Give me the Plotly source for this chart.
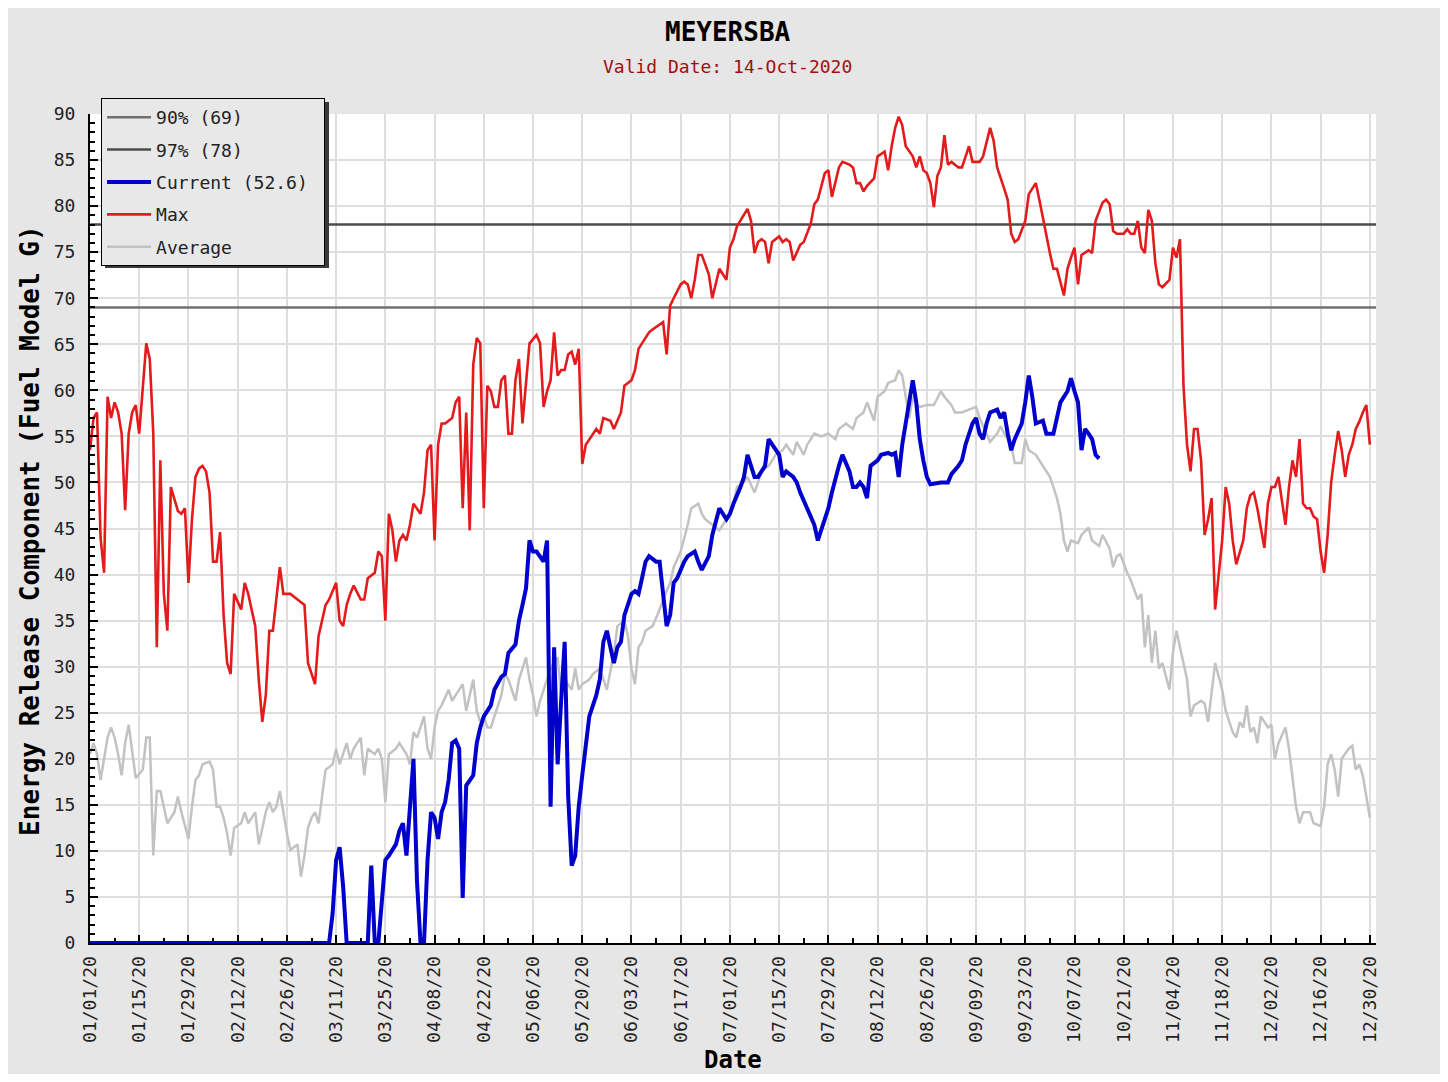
import pandas as pd
import plotly.graph_objects as go

# ---------------- data (day offset from 2020-01-01, value) ----------------
BASE = "2020-01-01"

max_days = [0,1,2,3,4,5,6,7,8,9,10,11,12,13,14,15,16,17,18,19,20,21,22,23,24,25,26,27,28,29,30,31,32,33,34,35,36,37,38,39,40,41,43,44,45,47,48,49,50,51,52,54,55,57,59,61,62,63,64,65,67,68,70,71,72,73,
            74,75,77,78,79,81,82,83,84,85,86,87,88,89,90,91,92,94,95,96,97,98,99,100,101,103,104,105,106,107,108,109,110,111,112,113,114,115,116,117,118,119,120,121,122,123,124,125,127,128,129,130,131,132,133,134,135,136,137,138,139,140,141,143,144,145,
            146,148,149,151,152,154,155,156,157,159,160,162,163,164,165,166,168,169,170,171,172,173,174,176,177,179,180,181,182,183,184,185,187,188,189,190,191,192,193,194,196,197,198,199,200,202,203,205,206,207,209,210,211,213,214,216,217,218,
            219,220,221,223,224,226,227,228,229,230,231,232,234,235,236,237,238,239,240,241,242,243,244,245,247,248,249,250,251,253,254,255,256,257,258,260,261,262,263,264,266,267,268,269,270,272,273,274,275,277,278,279,280,281,282,284,285,286,288,289,290,291,
            292,293,294,295,296,297,298,299,300,301,302,303,304,305,307,308,309,310,311,312,313,314,315,316,317,318,319,320,322,323,324,325,326,328,329,330,331,332,334,335,336,337,338,340,341,342,343,344,345,346,347,348,349,350,351,352,353,354,355,356,357,358,359,360,361,362,363,364]
max_vals = [53.5,57,57.6,44,40.2,59.3,57,58.7,57.6,55.3,47,55.3,57.6,58.4,55.3,59.9,65.1,63.4,55.3,32.1,52.4,37.9,33.9,49.5,48.3,46.9,46.6,47.2,39.1,46,50.6,51.5,51.8,51.2,48.9,41.4,41.4,44.6,35.6,30.4,29.2,37.9,36.2,39.1,37.9,34.4,28.6,24,26.9,33.9,33.9,40.8,37.9,37.9,37.3,36.7,30.4,29.2,28.1,33.3,36.7,37.3,39.1,35,34.4,36.7,
            37.9,38.8,37.3,37.3,39.6,40.2,42.5,42,35,46.6,44.8,41.4,43.7,44.3,43.7,45.4,47.7,46.6,48.9,53.5,54.1,43.7,54.1,56.4,56.4,57,58.7,59.3,47.2,57.6,44.8,62.8,65.7,65.1,47.2,60.5,59.9,58.2,58.2,61.1,61.6,55.3,55.3,61.1,63.4,56.4,61.1,65.1,66,65.1,58.2,59.9,61.1,66.3,61.6,62.2,62.2,63.9,64.2,62.8,64.5,52,54.1,55.3,55.8,55.3,
            57,56.7,55.8,57.6,60.5,61.1,62.2,64.5,65.1,66.3,66.6,67.1,67.4,63.9,69.2,70,71.5,71.8,71.5,70,72,74.7,74.7,72.6,70,73.2,72.6,72,75.5,76.4,77.8,78.4,79.7,78.4,74.9,76.1,76.4,76.1,73.8,76.1,76.7,76.1,76.4,76.1,74.1,75.8,76.1,78.1,80.2,80.7,83.6,83.9,81,84.2,84.8,84.5,84.2,82.5,
            82.5,81.6,82.2,83,85.4,85.9,83.9,86.5,88.5,89.7,88.8,86.5,85.4,84.2,85.4,83.9,83.6,82.5,79.9,83.3,84.2,87.7,84.5,84.8,84.2,84.2,85.4,86.5,84.8,84.8,85.4,86.8,88.5,87.1,84.2,81.9,80.7,77,76.1,76.4,78.4,81.3,81.9,82.5,80.7,76.7,74.9,73.2,73.2,70.3,73.2,74.4,75.5,71.5,74.7,75.2,74.9,78.4,80.4,80.7,80.2,77.3,
            77,77,77,77.5,77,77,78.4,75.5,74.9,79.6,78.4,73.8,71.5,71.2,72,75.5,74.4,76.4,60.5,54.1,51.2,55.8,55.8,52.4,44.3,46,48.3,36.2,43.7,49.5,47.7,43.7,41.1,43.7,47.2,48.6,48.9,47.2,42.9,47.7,49.5,49.5,50.6,45.4,49.5,52.4,50.6,54.7,47.7,47.2,47.2,46.3,46,42.5,40.2,44.3,50,53,55.6,53.5,50.6,53,54.1,55.8,56.6,57.6,58.4,54.1,50,51.2,55]

avg_days = [0,1,2,3,5,6,7,8,9,10,11,12,13,15,16,17,18,19,20,21,22,24,25,26,28,29,30,31,32,34,35,36,37,38,39,40,41,43,44,45,46,47,48,50,51,52,53,54,55,56,57,59,60,61,62,63,64,65,66,67,69,70,71,73,74,75,77,78,79,81,82,83,84,85,87,88,90,91,92,93,95,96,97,98,99,100,102,103,105,106,107,108,109,110,111,112,113,114,116,117,118,119,121,122,124,125,126,127,128,130,131,132,133,134,135,137,138,139,140,142,143,145,
            146,147,149,150,152,153,154,155,156,157,158,160,162,163,165,166,168,170,171,173,174,175,177,179,180,182,183,184,186,187,189,190,191,193,194,195,197,198,200,201,203,204,206,208,210,212,213,215,217,218,220,221,223,224,226,227,229,230,231,232,233,234,235,236,238,240,242,243,245,246,248,250,252,253,255,256,258,259,260,262,263,265,266,267,269,270,271,273,274,275,276,277,278,279,281,282,284,285,287,288,290,
            291,292,293,295,296,298,299,300,301,302,303,304,305,307,308,309,311,312,313,314,316,317,318,319,320,322,323,325,326,327,328,329,330,331,332,333,335,336,337,338,340,341,342,343,344,345,347,348,350,351,352,353,354,355,356,358,359,360,361,362,363,364]
avg_vals = [20.5,21.7,20.5,17.7,22.3,23.4,22.3,20.5,18.2,21.7,23.7,20.5,17.9,18.8,22.3,22.3,9.5,16.5,16.5,14.8,13,14.2,15.9,14.2,11.3,14.8,17.7,18.2,19.4,19.7,18.8,14.8,14.8,13.6,11.9,9.5,12.5,13,14.2,13,13.6,14.2,10.7,14.2,15.3,14.2,14.8,16.5,14.2,11.9,10.1,10.7,7.2,9.5,12.5,13.6,14.2,13,15.9,18.8,19.4,21.1,19.4,21.7,20,21.1,22.3,18.2,21.1,20.5,21.1,20,15.3,20.5,21.1,21.7,20.5,19.4,22.9,22.3,24.6,21.1,20,23.4,25.2,25.8,27.5,26.3,27.5,28.1,25.2,26.9,28.6,25.2,24,24.6,23.4,23.4,25.8,26.9,29.2,28.6,26.3,28.6,31,28.6,26.9,24.6,26.3,28.6,29.8,30.4,31,26.9,28.6,27.5,29.8,27.5,28.1,28.6,29.2,29.8,
            28.6,27.5,31.5,34.4,35,33.3,29.8,28.1,32.1,32.7,33.9,34.4,36.2,37.3,39.1,40.8,42.5,45.4,47.2,47.7,46.6,46,45.4,44.8,45.4,46.6,47.7,49.5,50,50.6,48.9,50,51.2,51.8,52.4,53,53.5,54.1,53,54.4,53,54.1,55.3,55,55.3,54.7,55.8,56.4,55.8,57,57.6,58.7,56.7,59.3,59.9,60.8,61.1,62.2,61.6,59.3,57,59.3,58.4,58.2,58.4,58.4,59.9,59.3,58.4,57.6,57.6,57.9,58.2,57,55.3,54.4,55.3,56.1,55.3,54.1,52.1,52.1,54.7,53.5,53,52.4,51.8,50.6,49.5,48.3,46.6,43.7,42.5,43.7,43.4,44.3,45.1,43.7,43.1,44.3,42.8,
            40.8,42,42.2,40.2,39.4,37.3,37.9,32.1,35.6,30.4,33.9,29.8,30.4,27.5,31.5,33.9,30.4,28.6,24.6,25.8,26.3,26,24,27.5,30.4,27.5,25.2,22.9,22.3,24,23.4,25.8,22.9,23.4,21.7,24.6,23.4,23.7,20,21.7,23.4,21.1,18.2,14.8,13,14.2,14.2,13,12.7,14.8,19.4,20.5,18.8,15.9,20,21.1,21.4,18.8,19.4,18.2,15.9,13.6]

cur_days = [0,68,69,70,71,72,73,79,80,81,82,83,84,85,87,88,89,90,91,92,93,94,95,96,97,98,99,100,101,102,103,104,105,106,107,108,109,110,111,112,114,115,117,118,119,121,122,123,124,125,126,127,128,129,130,131,132,133,134,135,136,137,138,139,140,141,142,144,145,
            146,147,148,149,150,151,152,154,155,156,157,158,159,161,162,163,164,165,166,167,169,170,172,173,174,176,177,179,180,181,182,183,185,186,187,189,190,192,193,194,196,197,198,200,201,202,204,206,207,208,210,211,212,213,214,216,217,
            218,219,220,221,222,224,225,227,228,229,230,231,232,233,234,235,236,237,238,239,241,242,244,245,247,248,249,251,252,253,254,255,256,258,259,260,261,262,263,265,266,267,268,269,271,272,274,275,276,278,279,280,281,282,283,284,285,286,287]
cur_vals = [0,0,3.2,9,10.4,6.1,0,0,8.4,0,0,4.3,9,9.5,10.7,12.2,13,9.5,15.3,20,6.7,0,0,9,14.2,13.6,11.3,14.2,15.3,17.7,21.7,22,21.1,4.9,17.1,17.7,18.2,21.7,23.4,24.6,25.8,27.5,28.9,29.2,31.5,32.4,35,36.7,38.5,43.7,42.5,42.5,42,41.4,43.7,14.8,32.1,19.4,26.3,32.7,15.9,8.4,9.5,14.8,18.2,21.1,24.6,26.9,28.6,
            32.7,33.9,32.1,30.4,32.1,32.7,35.6,37.9,38.2,37.9,39.6,41.4,42,41.4,41.4,37.9,34.4,35.6,39.1,39.6,41.4,42,42.5,41.4,40.5,42,44.3,47.2,46.6,46,46.6,47.7,49.5,50.6,53,50.6,50.6,51.8,54.7,54.1,53,50.6,51.2,50.6,50,48.9,47.2,45.4,43.7,44.8,47.2,48.9,50.6,51.8,53,51.2,49.5,
            49.5,50,49.5,48.3,51.8,52.4,53,53.2,53,53.2,50.6,54.1,56.4,58.7,61.1,58.7,54.7,52.4,50.6,49.8,50,50,50,50.9,51.8,52.4,54.1,56.4,57,55.3,54.7,56.4,57.6,57.9,57,57.6,55.3,53.5,54.7,56.4,58.7,61.6,59.3,56.4,56.7,55.3,55.3,57,58.7,59.9,61.3,59.9,58.7,53.5,55.8,55.3,54.7,53,52.6]

p90_value = 69
p97_value = 78
current_value = 52.6
line_days = [0, 365.75]

legend_names = ["90% (69)", "97% (78)", "Current (52.6)\u00a0", "Max", "Average"]
station = "MEYERSBA"
valid_date = "Valid Date: 14-Oct-2020"


def to_dates(days):
    return pd.Timestamp(BASE) + pd.to_timedelta(days, unit="D")


MONO = "DejaVu Sans Mono"
fig = go.Figure()

fig.add_trace(go.Scatter(x=to_dates(line_days), y=[p90_value] * 2, mode="lines", name=legend_names[0],
                         line=dict(color="#707070", width=2.5), legendrank=1, legendgroup="a"))
fig.add_trace(go.Scatter(x=to_dates(line_days), y=[p97_value] * 2, mode="lines", name=legend_names[1],
                         line=dict(color="#4d4d4d", width=2.5), legendrank=2, legendgroup="b"))
fig.add_trace(go.Scatter(x=to_dates(avg_days), y=avg_vals, mode="lines", name=legend_names[4],
                         line=dict(color="#c2c2c2", width=2.5), legendrank=5, legendgroup="e"))
fig.add_trace(go.Scatter(x=to_dates(max_days), y=max_vals, mode="lines", name=legend_names[3],
                         line=dict(color="#e41a1c", width=2.6), legendrank=4, legendgroup="d"))
fig.add_trace(go.Scatter(x=to_dates(cur_days), y=cur_vals, mode="lines", name=legend_names[2],
                         line=dict(color="#0000cc", width=4), legendrank=3, legendgroup="c"))

DAY_MS = 86400000
fig.update_xaxes(
    type="date", range=[to_dates([0])[0], to_dates([365.75])[0]],
    tick0=BASE, dtick=14 * DAY_MS, tickformat="%m/%d/%y", tickangle=-90,
    ticks="inside", ticklen=8, tickwidth=1.5, tickcolor="black",
    minor=dict(dtick=7 * DAY_MS, tick0=BASE, ticks="inside", ticklen=5, tickcolor="black", showgrid=False),
    showgrid=True, gridcolor="#dedede", gridwidth=2,
    showline=True, linecolor="black", linewidth=2, zeroline=False,
    tickfont=dict(family=MONO, size=18, color="#222"), layer="below traces", ticklabelstandoff=4,
)
fig.update_yaxes(
    range=[0, 90], tick0=0, dtick=5,
    ticks="inside", ticklen=8, tickwidth=1.5, tickcolor="black",
    minor=dict(dtick=1, tick0=0, ticks="inside", ticklen=5, tickcolor="black", showgrid=False),
    showgrid=True, gridcolor="#dedede", gridwidth=2,
    showline=True, linecolor="black", linewidth=2, zeroline=False,
    tickfont=dict(family=MONO, size=18, color="#222"), ticklabelstandoff=9,
)

fig.update_layout(
    width=1440, height=1066,
    margin=dict(l=82, r=72, t=106, b=131),
    paper_bgcolor="#e6e6e6", plot_bgcolor="white",
    showlegend=True,
    legend=dict(x=0.0086, y=1.0193, xanchor="left", yanchor="top",
                bgcolor="#e8e8e8", bordercolor="black", borderwidth=1,
                font=dict(family=MONO, size=18, color="#222"),
                itemwidth=44,
                traceorder="grouped", tracegroupgap=6),
    annotations=[
        dict(text="<b>" + station + "</b>", x=0.496, y=1.0989, xref="paper", yref="paper",
             showarrow=False, font=dict(family=MONO, size=26, color="black"), yanchor="middle"),
        dict(text=valid_date, x=0.496, y=1.0567, xref="paper", yref="paper",
             showarrow=False, font=dict(family=MONO, size=18, color="#a01010"), yanchor="middle"),
        dict(text="<b>Date</b>", x=0.5, y=-0.1411, xref="paper", yref="paper",
             showarrow=False, font=dict(family=MONO, size=24, color="black"), yanchor="middle"),
        dict(text="<b>Energy Release Component (Fuel Model G)</b>", x=-0.0467, y=0.497, xref="paper", yref="paper",
             showarrow=False, textangle=-90, font=dict(family=MONO, size=26, color="black"),
             xanchor="center", yanchor="middle"),
    ],
    shapes=[dict(type="rect", xref="paper", yref="paper",
                 x0=(105 - 90) / 1286, x1=(329 - 90) / 1286,
                 y0=(943 - 268) / 829, y1=(943 - 102) / 829,
                 fillcolor="#3a3a3a", line=dict(width=0), layer="above")],
)

fig.write_html("out.html")
